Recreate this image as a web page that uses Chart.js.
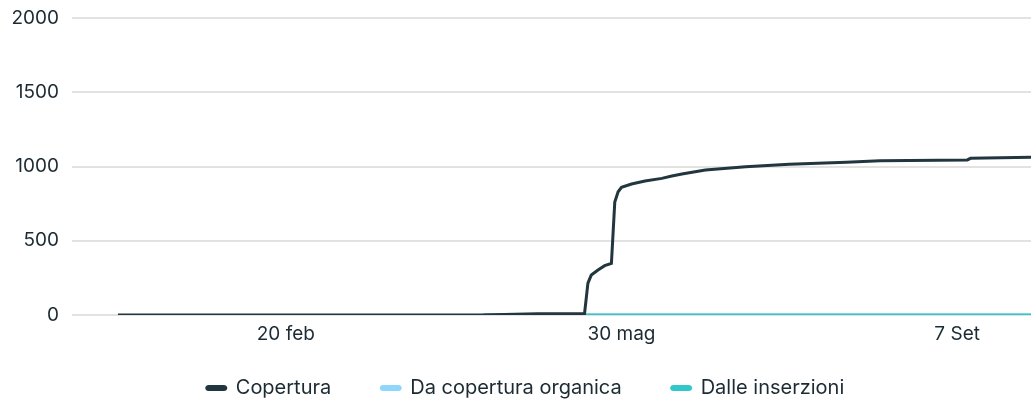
<!DOCTYPE html>
<html>
<head>
<meta charset="utf-8">
<script src="https://cdn.jsdelivr.net/npm/chart.js@4"></script>
<style>
  html, body { margin: 0; padding: 0; background: #ffffff; }
  #wrap { width: 1031px; height: 403px; }
</style>
</head>
<body>
<div id="wrap"><canvas id="c" width="1031" height="403"></canvas></div>
<script>
// Day index (0 = 1 Jan) and values
const seriesNames = ['Copertura', 'Da copertura organica', 'Dalle inserzioni'];
const coperturaDays   = [0, 108, 115, 125, 139, 140, 141, 143, 145, 147, 148, 149, 150, 153, 157, 162, 165, 168, 175, 187, 200, 217, 227, 253, 254, 272];
const coperturaValues = [0,   0,   4,   8,  10, 215, 269, 303, 332, 348, 760, 830, 860, 882, 902, 920, 936, 950, 976, 999, 1015, 1028, 1039, 1044, 1055, 1062];
const organicaDays    = [109, 272];
const organicaValues  = [0, 0];
const inserzioniDays  = [109, 272];
const inserzioniValues = [0, 0];
const tickDays   = [50, 150, 250];
const tickLabels = ['20 feb', '30 mag', '7 Set'];
const yTicks = [0, 500, 1000, 1500, 2000];

const toPoints = (xs, ys) => xs.map((x, i) => ({ x: x, y: ys[i] }));
const textColor = '#1c2b33';
const font = { family: 'Inter, "Noto Sans", sans-serif', size: 19 };
const legendFont = { family: 'Inter, "Noto Sans", sans-serif', size: 20 };

const legendPlace = {
  id: 'legendPlace',
  afterLayout(chart) {
    const lg = chart.legend;
    if (!lg) return;
    lg.top = 328;
    lg.left = 20;
  }
};

new Chart(document.getElementById('c'), {
  type: 'line',
  plugins: [legendPlace],
  data: {
    datasets: [
      { label: seriesNames[0], data: toPoints(coperturaDays, coperturaValues), order: 0,
        borderColor: '#22363f', backgroundColor: '#3a3d40', borderWidth: 3 },
      { label: seriesNames[1], data: toPoints(organicaDays, organicaValues), order: 2,
        borderColor: '#8ed6fb', backgroundColor: '#8ed6fb', borderWidth: 3 },
      { label: seriesNames[2], data: toPoints(inserzioniDays, inserzioniValues), order: 1,
        borderColor: '#31c8cc', backgroundColor: '#31c8cc', borderWidth: 3 }
    ]
  },
  options: {
    responsive: false,
    animation: false,
    events: [],
    elements: { point: { radius: 0 }, line: { tension: 0 } },
    layout: { padding: { top: 18, right: 0, left: 0, bottom: 0 } },
    scales: {
      x: {
        type: 'linear',
        min: -13.7, max: 272,
        grid: { display: false, drawTicks: false },
        border: { display: false },
        afterBuildTicks: s => { s.ticks = tickDays.map(v => ({ value: v })); },
        ticks: {
          color: textColor, font: font, padding: 8, maxRotation: 0, autoSkip: false,
          callback: (v) => { const i = tickDays.indexOf(v); return i >= 0 ? tickLabels[i] : ''; }
        },
        afterFit: s => { s.height = 40; s.paddingLeft = 0; s.paddingRight = 0; }
      },
      y: {
        min: 0, max: 2000,
        afterBuildTicks: s => { s.ticks = yTicks.map(v => ({ value: v })); },
        grid: { color: '#e2e2e2', lineWidth: 2, drawTicks: false },
        border: { display: false },
        ticks: { color: textColor, font: font, padding: 13, callback: v => String(v) },
        afterFit: s => { s.width = 72; s.paddingTop = 0; s.paddingBottom = 0; }
      }
    },
    plugins: {
      tooltip: { enabled: false },
      legend: {
        position: 'bottom',
        maxHeight: 48,
        labels: {
          color: textColor, font: legendFont,
          boxWidth: 19, boxHeight: 3, useBorderRadius: true, borderRadius: 2,
          padding: 50,
          sort: (a, b) => a.datasetIndex - b.datasetIndex
        }
      }
    }
  }
});
</script>
</body>
</html>
